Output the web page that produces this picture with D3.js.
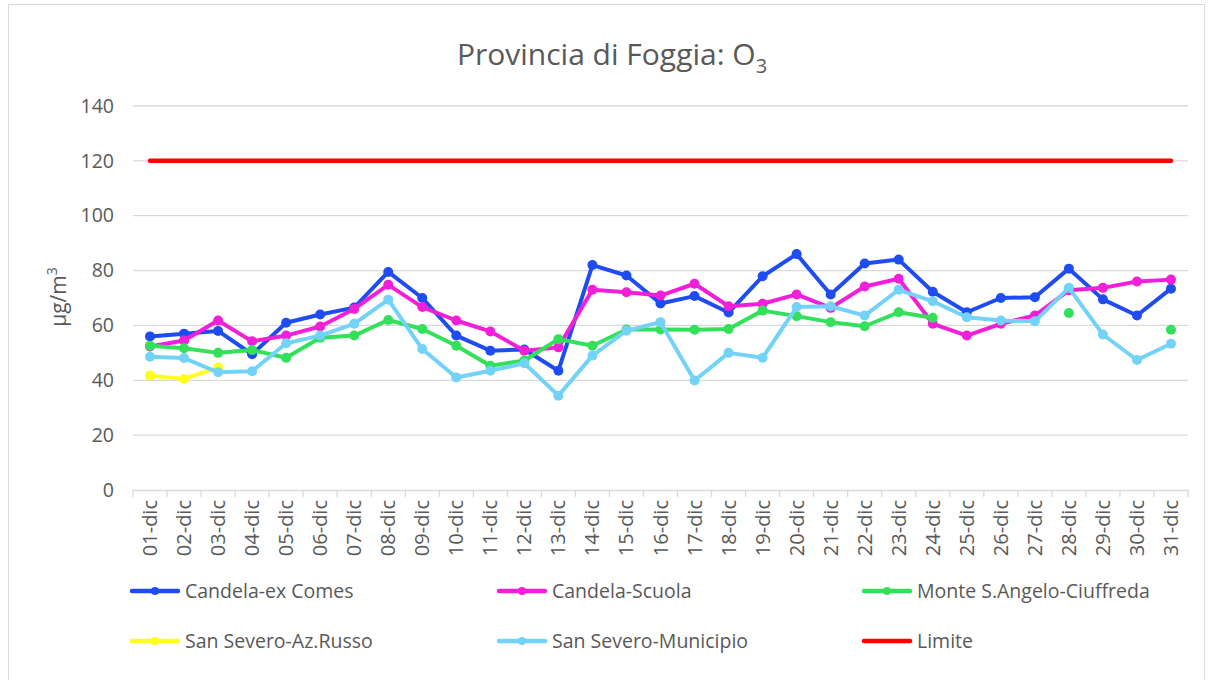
<!DOCTYPE html>
<html>
<head>
<meta charset="utf-8">
<script src="https://cdn.jsdelivr.net/npm/d3@7"></script>
<style>
  body { margin: 0; background: #fff; }
  text { font-family: "Open Sans", "Liberation Sans", sans-serif; fill: #595959; }
</style>
</head>
<body>
<svg id="chart" width="1213" height="680"></svg>
<script>
var days = ["01-dic","02-dic","03-dic","04-dic","05-dic","06-dic","07-dic","08-dic","09-dic","10-dic",
            "11-dic","12-dic","13-dic","14-dic","15-dic","16-dic","17-dic","18-dic","19-dic","20-dic",
            "21-dic","22-dic","23-dic","24-dic","25-dic","26-dic","27-dic","28-dic","29-dic","30-dic","31-dic"];

var candelaExComes = [56,57,58,49.5,61,64,66.5,79.5,70,56.3,50.8,51.2,43.5,82,78.2,68,
                      70.7,64.7,77.9,86,71.3,82.6,84,72.3,64.8,70,70.3,80.7,69.5,63.6,73.4];
var candelaScuola = [52.3,54.5,61.8,54.2,56.3,59.6,66,74.8,66.7,61.8,57.8,50.8,52,73,72.1,70.9,
                     75.2,67,67.9,71.3,66.4,74.2,77,60.6,56.3,60.6,63.6,72.8,73.7,76,76.7];
var monteSAngelo = [52.6,51.7,50,51,48.2,55.5,56.3,62,58.7,52.6,45.3,47.2,55,52.6,58.5,58.5,
                    58.4,58.7,65.4,63.4,61.2,59.7,64.8,62.8,null,null,null,64.5,null,null,58.4];
var sanSeveroRusso = [41.7,40.5,44.7,null,null,null,null,null,null,null,null,null,null,null,null,null,
                      null,null,null,null,null,null,null,null,null,null,null,null,null,null,null];
var sanSeveroMunicipio = [48.6,48.1,42.9,43.3,53.5,56.3,60.6,69.4,51.4,41,43.5,46.2,34.4,49,58.1,61.2,
                          39.9,50,48.2,66.7,67,63.6,73,68.8,63,61.8,61.5,73.7,56.7,47.4,53.3];
var limite = days.map(function() { return 120; });

var yTicks = [0,20,40,60,80,100,120,140];

var series = [
  {name: "Candela-ex Comes", values: candelaExComes, color: "#1f4cf0", markers: true},
  {name: "Candela-Scuola", values: candelaScuola, color: "#f21fd8", markers: true},
  {name: "Monte S.Angelo-Ciuffreda", values: monteSAngelo, color: "#33e05a", markers: true},
  {name: "San Severo-Az.Russo", values: sanSeveroRusso, color: "#ffff1a", markers: true},
  {name: "San Severo-Municipio", values: sanSeveroMunicipio, color: "#73d2f7", markers: true},
  {name: "Limite", values: limite, color: "#ff0000", markers: false}
];

var svg = d3.select("#chart");

// chart frame
svg.append("rect")
    .attr("x", 8.5).attr("y", 4.5)
    .attr("width", 1196).attr("height", 690)
    .attr("fill", "#fff")
    .attr("stroke", "#d9d9d9");

var margin = {top: 106, left: 133, right: 25, bottom: 190},
    width = 1188 - margin.left,
    height = 490 - margin.top;

var g = svg.append("g")
    .attr("transform", "translate(" + margin.left + "," + margin.top + ")");

var x = d3.scaleBand().domain(days).range([0, width]);
var y = d3.scaleLinear().domain([0, 140]).range([height, 0]);

// gridlines
g.append("g")
    .selectAll("line")
    .data(yTicks.filter(function(d) { return d > 0; }))
    .enter().append("line")
    .attr("x1", 0).attr("x2", width)
    .attr("y1", function(d) { return y(d); })
    .attr("y2", function(d) { return y(d); })
    .attr("stroke", "#d9d9d9")
    .attr("stroke-width", 1.3);

// y axis labels
var yAxis = g.append("g")
    .call(d3.axisLeft(y).tickValues(yTicks).tickSize(0).tickPadding(19));
yAxis.select(".domain").remove();
yAxis.selectAll("text").style("font-size", "19.5px").attr("fill", "#595959");

// x axis
var xAxis = g.append("g")
    .attr("transform", "translate(0," + height + ")")
    .call(d3.axisBottom(x).tickSize(0));
xAxis.select(".domain").attr("stroke", "#d9d9d9").attr("stroke-width", 1.3);
xAxis.selectAll("text")
    .style("font-size", "20px")
    .attr("fill", "#595959")
    .attr("transform", "rotate(-90)")
    .attr("text-anchor", "end")
    .attr("x", -10)
    .attr("y", 0)
    .attr("dy", "0.35em");

// tick marks between categories
g.append("g")
    .selectAll("line")
    .data(days.concat(["end"]))
    .enter().append("line")
    .attr("x1", function(d, i) { return i * x.bandwidth(); })
    .attr("x2", function(d, i) { return i * x.bandwidth(); })
    .attr("y1", height).attr("y2", height + 7)
    .attr("stroke", "#d9d9d9")
    .attr("stroke-width", 1.3);

var cx = function(i) { return x(days[i]) + x.bandwidth() / 2; };

var line = d3.line()
    .defined(function(d) { return d != null; })
    .x(function(d, i) { return cx(i); })
    .y(function(d) { return y(d); });

series.forEach(function(s) {
    g.append("path")
        .datum(s.values)
        .attr("fill", "none")
        .attr("stroke", s.color)
        .attr("stroke-width", s.markers ? 4 : 4.5)
        .attr("stroke-linejoin", "round")
        .attr("stroke-linecap", "round")
        .attr("d", line);
    if (s.markers) {
        g.append("g").selectAll("circle")
            .data(s.values.map(function(v, i) { return {v: v, i: i}; })
                .filter(function(d) { return d.v != null; }))
            .enter().append("circle")
            .attr("cx", function(d) { return cx(d.i); })
            .attr("cy", function(d) { return y(d.v); })
            .attr("r", 5)
            .attr("fill", s.color);
    }
});

// title
var title = svg.append("text")
    .attr("x", 612).attr("y", 65)
    .attr("text-anchor", "middle")
    .style("font-size", "30px");
title.append("tspan").text("Provincia di Foggia: O");
title.append("tspan").attr("dy", 8).style("font-size", "20px").text("3");

// y axis title
var yt = svg.append("text")
    .attr("transform", "translate(66,297) rotate(-90)")
    .attr("text-anchor", "middle")
    .style("font-size", "21px");
yt.append("tspan").text("µg/m");
yt.append("tspan").attr("dy", -9).style("font-size", "14px").text("3");

// legend
var legendCols = [130, 497, 862];
var legendRows = [591, 641];
var legend = svg.append("g");
series.forEach(function(s, i) {
    var lx = legendCols[i % 3], ly = legendRows[Math.floor(i / 3)];
    var item = legend.append("g").attr("transform", "translate(" + lx + "," + ly + ")");
    item.append("line")
        .attr("x1", 2).attr("x2", 48)
        .attr("stroke", s.color)
        .attr("stroke-width", 4.5)
        .attr("stroke-linecap", "round");
    if (s.markers) {
        item.append("circle").attr("cx", 25).attr("r", 4).attr("fill", s.color);
    }
    item.append("text")
        .attr("x", 55).attr("dy", "0.35em")
        .style("font-size", "19.5px")
        .text(s.name);
});
</script>
</body>
</html>
